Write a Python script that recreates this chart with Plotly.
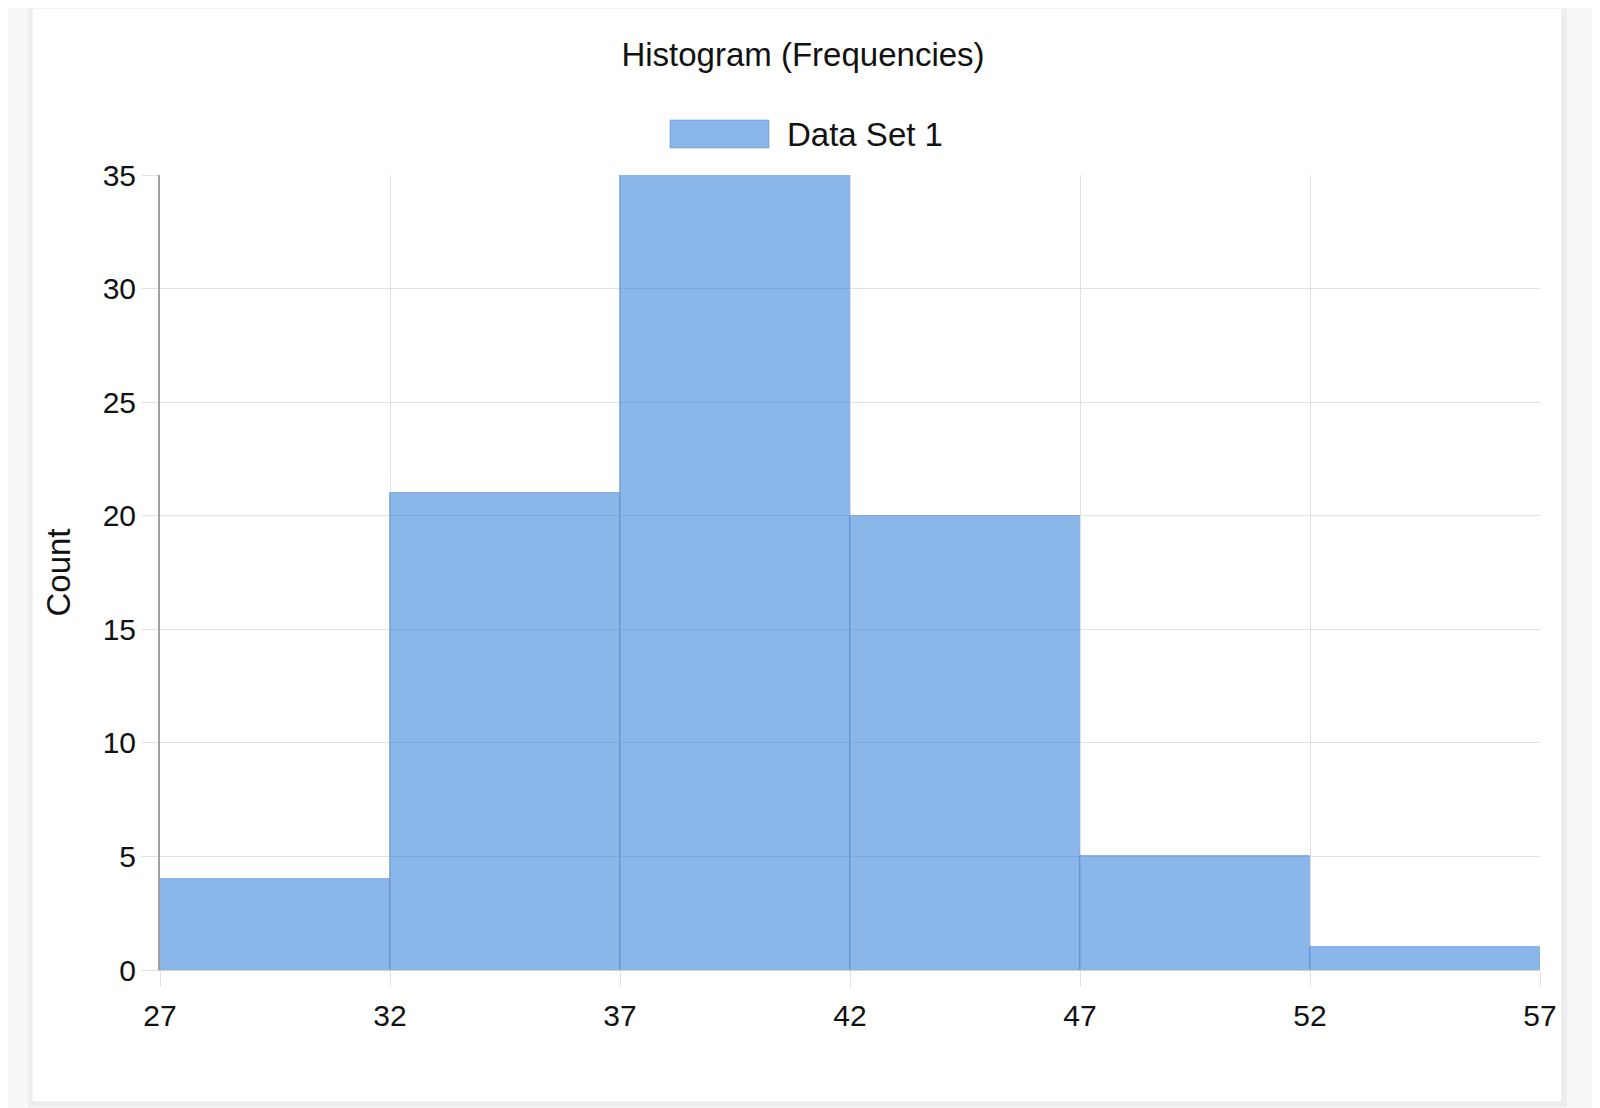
import plotly.graph_objects as go

# histogram bins (left edges) and counts
bin_starts = [27, 32, 37, 42, 47, 52]
bin_width = 5
counts = [4, 21, 35, 20, 5, 1]
x_ticks = [27, 32, 37, 42, 47, 52, 57]
y_ticks = [0, 5, 10, 15, 20, 25, 30, 35]

series_name = "Data Set 1"
bar_fill = "rgba(30,115,215,0.52)"
bar_edge = "rgba(80,140,210,0.5)"
font_family = "Liberation Sans, Arial, sans-serif"

# page body has an 8px margin, so figure coords are screen coords minus 8
OFF = 8
W, H = 1600, 1108
L, R, T, B = 152, 68, 167, 146
pw, ph = W - L - R, H - T - B


def px_x(x):
    return (x - OFF - L) / pw


def px_y(y):
    return (H - B - (y - OFF)) / ph


fig = go.Figure()
fig.add_trace(go.Bar(
    x=bin_starts, y=counts, width=bin_width, offset=0,
    name=series_name,
    marker=dict(color=bar_fill, line=dict(color=bar_edge, width=1)),
))

# card background with faint shadow
fig.add_shape(type="rect", xref="paper", yref="paper", layer="below",
              x0=px_x(28), x1=px_x(1567), y0=px_y(1107), y1=px_y(4),
              fillcolor="#eeeeee", line=dict(width=0))
fig.add_shape(type="rect", xref="paper", yref="paper", layer="below",
              x0=px_x(32), x1=px_x(1562), y0=px_y(1102), y1=px_y(8),
              fillcolor="white", line=dict(color="#e8e8e8", width=1))

# legend swatch + label
fig.add_shape(type="rect", xref="paper", yref="paper",
              x0=px_x(670), x1=px_x(769), y0=px_y(148), y1=px_y(120),
              fillcolor=bar_fill, line=dict(color=bar_edge, width=1))
fig.add_annotation(xref="paper", yref="paper", x=px_x(785), y=px_y(134),
                   text=series_name, showarrow=False, xanchor="left", yanchor="middle",
                   font=dict(size=33, color="#111", family=font_family))

fig.update_layout(
    width=W, height=H,
    margin=dict(l=L, r=R, t=T, b=B),
    paper_bgcolor="#f8f8f8",
    plot_bgcolor="rgba(0,0,0,0)",
    showlegend=False,
    bargap=0,
    font=dict(family=font_family, size=29, color="#111"),
    title=dict(text="Histogram (Frequencies)", x=(803 - OFF) / W, xanchor="center",
               y=1 - (54 - OFF) / H, yanchor="middle",
               font=dict(size=33, color="#111", family=font_family)),
)
fig.update_xaxes(
    range=[27, 57], tickvals=x_ticks, ticktext=[str(v) for v in x_ticks],
    showgrid=True, gridcolor="#e1e1e1", gridwidth=1,
    ticks="outside", ticklen=16, tickcolor="#e1e1e1",
    zeroline=False, showline=True, linecolor="#cfcfcf", mirror=False,
    tickfont=dict(size=30, color="#111"), ticklabelstandoff=3,
)
fig.update_yaxes(
    range=[0, 35], tickvals=y_ticks,
    showgrid=True, gridcolor="#e1e1e1", gridwidth=1,
    ticks="outside", ticklen=16, tickcolor="#e1e1e1",
    zeroline=False, showline=True, linecolor="#a0a0a0", linewidth=2,
    tickfont=dict(size=30, color="#111"),
    title=dict(text="Count", font=dict(size=33, color="#111"), standoff=22),
)

fig.write_html("out.html")
